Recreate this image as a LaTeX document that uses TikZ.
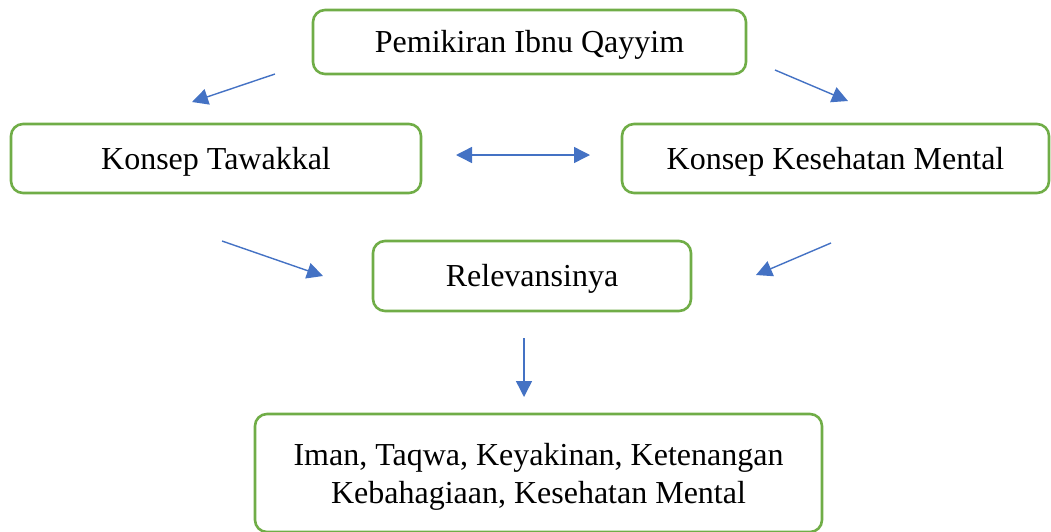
\documentclass[tikz,border=0pt]{standalone}
\usepackage{fontspec}
\setmainfont{Liberation Serif}
\usetikzlibrary{arrows.meta}
\definecolor{boxgreen}{HTML}{70AD47}
\definecolor{arrowblue}{HTML}{4472C4}
\begin{document}
\begin{tikzpicture}[x=1pt,y=-1pt,
  box/.style={draw=boxgreen, line width=2.6pt, rounded corners=12pt, fill=white,
    inner sep=0pt, align=center, font=\fontsize{32}{38}\selectfont},
  onebox/.style={box, text height=28pt, text depth=7pt},
  conn/.style={draw=arrowblue, line width=1.4pt, -{Triangle[length=16pt,width=16pt]}},
  dconn/.style={draw=arrowblue, line width=1.4pt, {Triangle[length=16pt,width=16pt]}-{Triangle[length=16pt,width=16pt]}}]
\useasboundingbox (0,0) rectangle (1051,531);
\node[onebox, minimum width=433pt, minimum height=64pt] (top) at (529.5,42) {Pemikiran Ibnu Qayyim};
\node[onebox, minimum width=410pt, minimum height=69pt] (taw) at (216,158.5) {Konsep Tawakkal};
\node[onebox, minimum width=427pt, minimum height=69pt] (kes) at (835.5,158.5) {Konsep Kesehatan Mental};
\node[onebox, minimum width=318pt, minimum height=70pt] (rel) at (532,276) {Relevansinya};
\node[box, minimum width=567pt, minimum height=118pt] (bot) at (538.5,473) {\rule{0pt}{29pt}Iman, Taqwa, Keyakinan, Ketenangan\\Kebahagiaan, Kesehatan Mental};
\coordinate (a1s) at (275,74);  \coordinate (a1e) at (192,102);
\coordinate (a2s) at (775,70);  \coordinate (a2e) at (848,101);
\coordinate (a3s) at (456,155); \coordinate (a3e) at (590,155);
\coordinate (a4s) at (222,241); \coordinate (a4e) at (323,276);
\coordinate (a5s) at (831,243); \coordinate (a5e) at (756,275);
\coordinate (a6s) at (524,338); \coordinate (a6e) at (524,397);
\draw[conn] (a1s) -- (a1e);
\draw[conn] (a2s) -- (a2e);
\draw[dconn] (a3s) -- (a3e);
\draw[conn] (a4s) -- (a4e);
\draw[conn] (a5s) -- (a5e);
\draw[conn] (a6s) -- (a6e);
\end{tikzpicture}
\end{document}
